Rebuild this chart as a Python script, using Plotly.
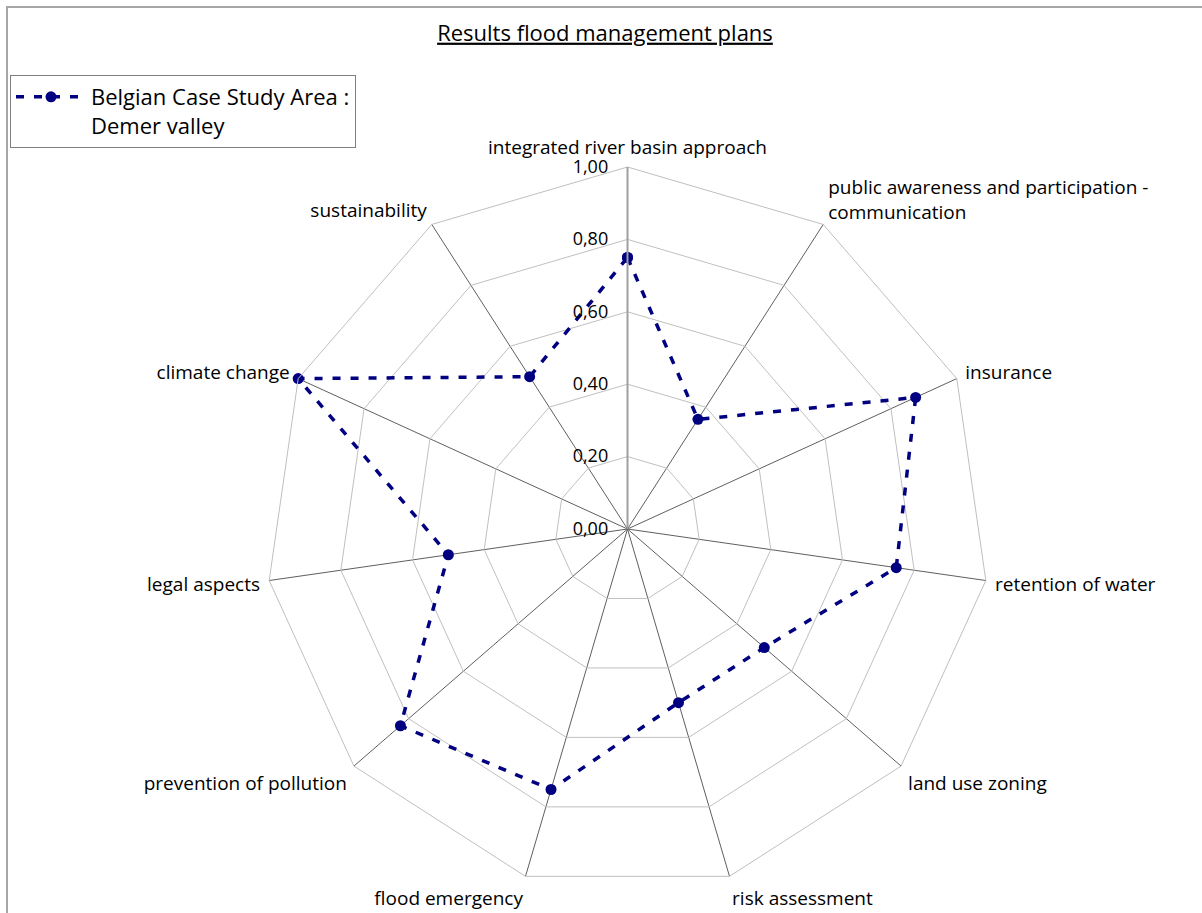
import plotly.graph_objects as go

# Scoring axes of the flood management plan assessment (clockwise from top)
categories = [
    "integrated river basin approach",
    "public awareness and participation -<br>communication",
    "insurance",
    "retention of water",
    "land use zoning",
    "risk assessment",
    "flood emergency",
    "prevention of pollution",
    "legal aspects",
    "climate change",
    "sustainability",
]

# Scores for the Belgian case study area
demer_scores = [0.75, 0.36, 0.875, 0.75, 0.50, 0.50, 0.75, 0.83, 0.50, 1.00, 0.50]

radial_ticks = [0.0, 0.2, 0.4, 0.6, 0.8, 1.0]

series_name = "Belgian Case Study Area :<br>Demer valley"
navy = "#000080"
font_family = "'Open Sans', Lato, sans-serif"

# close the polygon by repeating the first category
theta = categories + categories[:1]
r = demer_scores + demer_scores[:1]

fig = go.Figure(
    go.Scatterpolar(
        r=r,
        theta=theta,
        mode="lines+markers",
        name=series_name,
        line=dict(color=navy, width=3.5, dash="8px,10px"),
        marker=dict(size=11, color=navy, symbol="circle"),
    )
)

W, H = 1202, 913
cx, cy, R = 627.5, 529.0, 362.0

fig.update_layout(
    width=W,
    height=H,
    margin=dict(l=0, r=0, t=0, b=0),
    paper_bgcolor="white",
    separators=",.",
    font=dict(family=font_family, color="black"),
    title=dict(
        text="<u>Results flood management plans</u>",
        x=605 / W,
        y=1 - 33 / H,
        xanchor="center",
        yanchor="middle",
        font=dict(size=22, family=font_family, color="black"),
    ),
    showlegend=True,
    legend=dict(
        x=10 / W,
        y=1 - 75 / H,
        xanchor="left",
        yanchor="top",
        bordercolor="#7f7f7f",
        borderwidth=1,
        bgcolor="white",
        itemwidth=70,
        font=dict(size=22, family=font_family, color="black"),
        valign="top",
    ),
    polar=dict(
        domain=dict(
            x=[(cx - R) / W, (cx + R) / W],
            y=[(H - cy - R) / H, (H - cy + R) / H],
        ),
        bgcolor="white",
        gridshape="linear",
        angularaxis=dict(
            direction="clockwise",
            rotation=90,
            showgrid=True,
            gridcolor="#5f5f5f",
            gridwidth=1,
            showline=True,
            linecolor="#bfbfbf",
            linewidth=1,
            ticks="outside",
            ticklen=5,
            tickcolor="rgba(0,0,0,0)",
            tickfont=dict(size=19, family=font_family, color="black"),
        ),
        radialaxis=dict(
            range=[0, 1],
            tickvals=radial_ticks,
            tickformat=".2f",
            angle=90,
            tickangle=90,
            side="counterclockwise",
            showgrid=True,
            gridcolor="#c0c0c0",
            gridwidth=1,
            showline=True,
            linecolor="#a0a0a0",
            linewidth=2,
            ticks="outside",
            ticklen=12,
            tickcolor="rgba(0,0,0,0)",
            tickfont=dict(size=18, family=font_family, color="black"),
        ),
    ),
    shapes=[
        dict(
            type="rect",
            xref="paper",
            yref="paper",
            x0=7 / W,
            x1=1.02,
            y0=-0.02,
            y1=1 - 7 / H,
            line=dict(color="#a6a6a6", width=2),
            fillcolor="rgba(0,0,0,0)",
            layer="below",
        )
    ],
)

fig.write_html("out.html")
